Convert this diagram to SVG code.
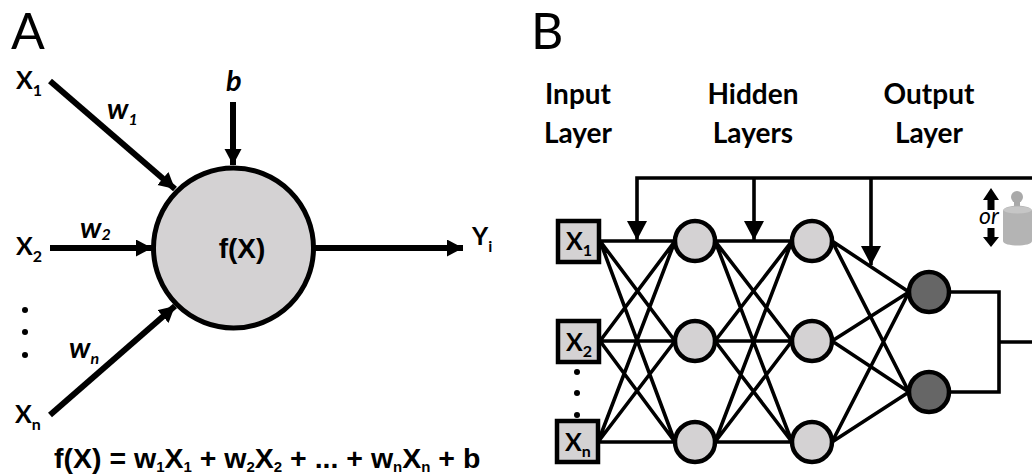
<svg xmlns="http://www.w3.org/2000/svg" width="1032" height="475" viewBox="0 0 1032 475">
<style>
.lat{font-family:Lato,"Liberation Sans",sans-serif;fill:#000}
.ari{font-family:"Liberation Sans",Arial,sans-serif;font-weight:bold;fill:#000}
.big{font-size:50px;font-weight:400}
.hd{font-size:28px;font-weight:bold;text-anchor:middle}
.x{font-size:25px;font-weight:bold}
.s{font-size:16px;font-weight:bold}
.w{font-size:29px;font-weight:bold;font-style:italic}
.wl{stroke:#000;stroke-width:6;fill:none}
.net{stroke:#000;stroke-width:3.6;fill:none}
.n{fill:#d4d2d3;stroke:#000;stroke-width:4.5}
.o{fill:#666;stroke:#000;stroke-width:4.5}
.b{fill:#d4d2d3;stroke:#000;stroke-width:4.5}
</style>
<defs>
<marker id="a" markerUnits="userSpaceOnUse" markerWidth="20" markerHeight="20" refX="16" refY="8.5" orient="auto"><path d="M0 0L16 8.5L0 17z"/></marker>
<marker id="c" markerUnits="userSpaceOnUse" markerWidth="22" markerHeight="22" refX="19" refY="10" orient="auto"><path d="M0 0L19 10L0 20z"/></marker>
</defs>
<g id="panel-a-labels">
<text class="lat big" x="11" y="49">A</text>
<text class="lat x" x="16" y="89">X<tspan class="s" dy="7">1</tspan></text>
<text class="lat x" x="16" y="255">X<tspan class="s" dy="7">2</tspan></text>
<text class="lat x" x="15" y="423">X<tspan class="s" dy="7">n</tspan></text>
<text class="lat w" x="226" y="91">b</text>
<text class="lat w" x="107" y="119">w<tspan class="s" dy="6">1</tspan></text>
<text class="lat w" x="80" y="238">w<tspan class="s" dy="2">2</tspan></text>
<text class="lat w" x="69" y="358">w<tspan class="s" dy="6">n</tspan></text>
<text class="lat x" x="472" y="245">Y<tspan class="s" dy="7">i</tspan></text>
<circle cx="25" cy="310" r="3"/><circle cx="25" cy="332" r="3"/><circle cx="25" cy="355" r="3"/>
</g>
<g id="panel-a-connectors">
<path class="wl" d="M50 81L175 189" marker-end="url(#a)"/>
<path class="wl" d="M233 102V165" marker-end="url(#a)"/>
<path class="wl" d="M50 248H152" marker-end="url(#a)"/>
<path class="wl" d="M50 415L175 306" marker-end="url(#a)"/>
<path class="wl" d="M315 248H463" marker-end="url(#a)"/>
</g>
<g id="neuron">
<circle cx="233.500" cy="248" r="80" fill="#d4d2d3" stroke="#000" stroke-width="5"/>
<text class="ari" x="242" y="258" font-size="28" text-anchor="middle">f(X)</text>
</g>
<text id="formula" class="ari" x="54" y="468" font-size="28.500">f(X) = w<tspan font-size="15" dy="4">1</tspan><tspan dy="-4">X</tspan><tspan font-size="15" dy="4">1</tspan><tspan dy="-4"> + w</tspan><tspan font-size="15" dy="4">2</tspan><tspan dy="-4">X</tspan><tspan font-size="15" dy="4">2</tspan><tspan dy="-4"> + ... + w</tspan><tspan font-size="15" dy="4">n</tspan><tspan dy="-4">X</tspan><tspan font-size="15" dy="4">n</tspan><tspan dy="-4"> + b</tspan></text>
<g id="panel-b-labels">
<text class="lat big" x="531" y="49">B</text>
<text class="lat hd" x="578" y="104">Input</text>
<text class="lat hd" x="578" y="143">Layer</text>
<text class="lat hd" x="753" y="104">Hidden</text>
<text class="lat hd" x="753" y="143">Layers</text>
<text class="lat hd" x="929" y="104">Output</text>
<text class="lat hd" x="929" y="143">Layer</text>
</g>
<g id="connectors" class="net">
<path d="M600 241H675M600 241L675 341M600 241L675 442M600 341L675 241M600 341H675M600 341L675 442M598 442L675 241M598 442L675 341M598 442H675"/>
<path d="M715 241H792M715 241L792 341M715 241L792 442M715 341L792 241M715 341H792M715 341L792 442M715 442L792 241M715 442L792 341M715 442H792"/>
<path d="M832 241L909 292M832 241L909 392M832 341L909 292M832 341L909 392M832 442L909 292M832 442L909 392"/>
<path d="M949 292H999V392H949M999 342H1032"/>
<path d="M1032 178H637V240" marker-end="url(#c)"/>
<path d="M754 178V240" marker-end="url(#c)"/>
<path d="M871 178V265" marker-end="url(#c)"/>
</g>
<g id="x1"><rect class="b" x="558" y="221" width="41" height="41"/><text class="lat x" x="566" y="250">X<tspan class="s" dy="6">1</tspan></text></g>
<g id="x2"><rect class="b" x="558" y="321" width="41" height="41"/><text class="lat x" x="566" y="351">X<tspan class="s" dy="6">2</tspan></text></g>
<g id="xn"><rect class="b" x="557" y="421" width="41" height="41"/><text class="lat x" x="565" y="451">X<tspan class="s" dy="6">n</tspan></text></g>
<g id="input-dots"><circle cx="577" cy="372" r="3"/><circle cx="577" cy="393" r="3"/><circle cx="577" cy="415" r="3"/></g>
<g id="h11"><circle class="n" cx="695" cy="241" r="20"/></g>
<g id="h12"><circle class="n" cx="695" cy="341" r="20"/></g>
<g id="h13"><circle class="n" cx="695" cy="442" r="20"/></g>
<g id="h21"><circle class="n" cx="812" cy="241" r="20"/></g>
<g id="h22"><circle class="n" cx="812" cy="341" r="20"/></g>
<g id="h23"><circle class="n" cx="812" cy="442" r="20"/></g>
<g id="o1"><circle class="o" cx="929" cy="292" r="20"/></g>
<g id="o2"><circle class="o" cx="929" cy="392" r="20"/></g>
<g id="weight-symbol">
<path d="M991 188L999 200H994.500V210H987.500V200H983z"/>
<path d="M991 247L999 237H994.500V228H987.500V237H983z"/>
<text x="989" y="224" font-family="Lato,sans-serif" font-style="italic" font-size="23" text-anchor="middle">or</text>
<path d="M1014 200H1020V212H1014z" fill="#a9a9a9"/>
<circle cx="1017" cy="197" r="6" fill="#a9a9a9"/>
<path d="M1003 211C1003 204 1032 204 1032 211V241C1032 247 1003 247 1003 241z" fill="#b4b4b4"/>
<ellipse cx="1017.500" cy="210" rx="14" ry="3.500" fill="#c6c6c6"/>
</g>
</svg>
